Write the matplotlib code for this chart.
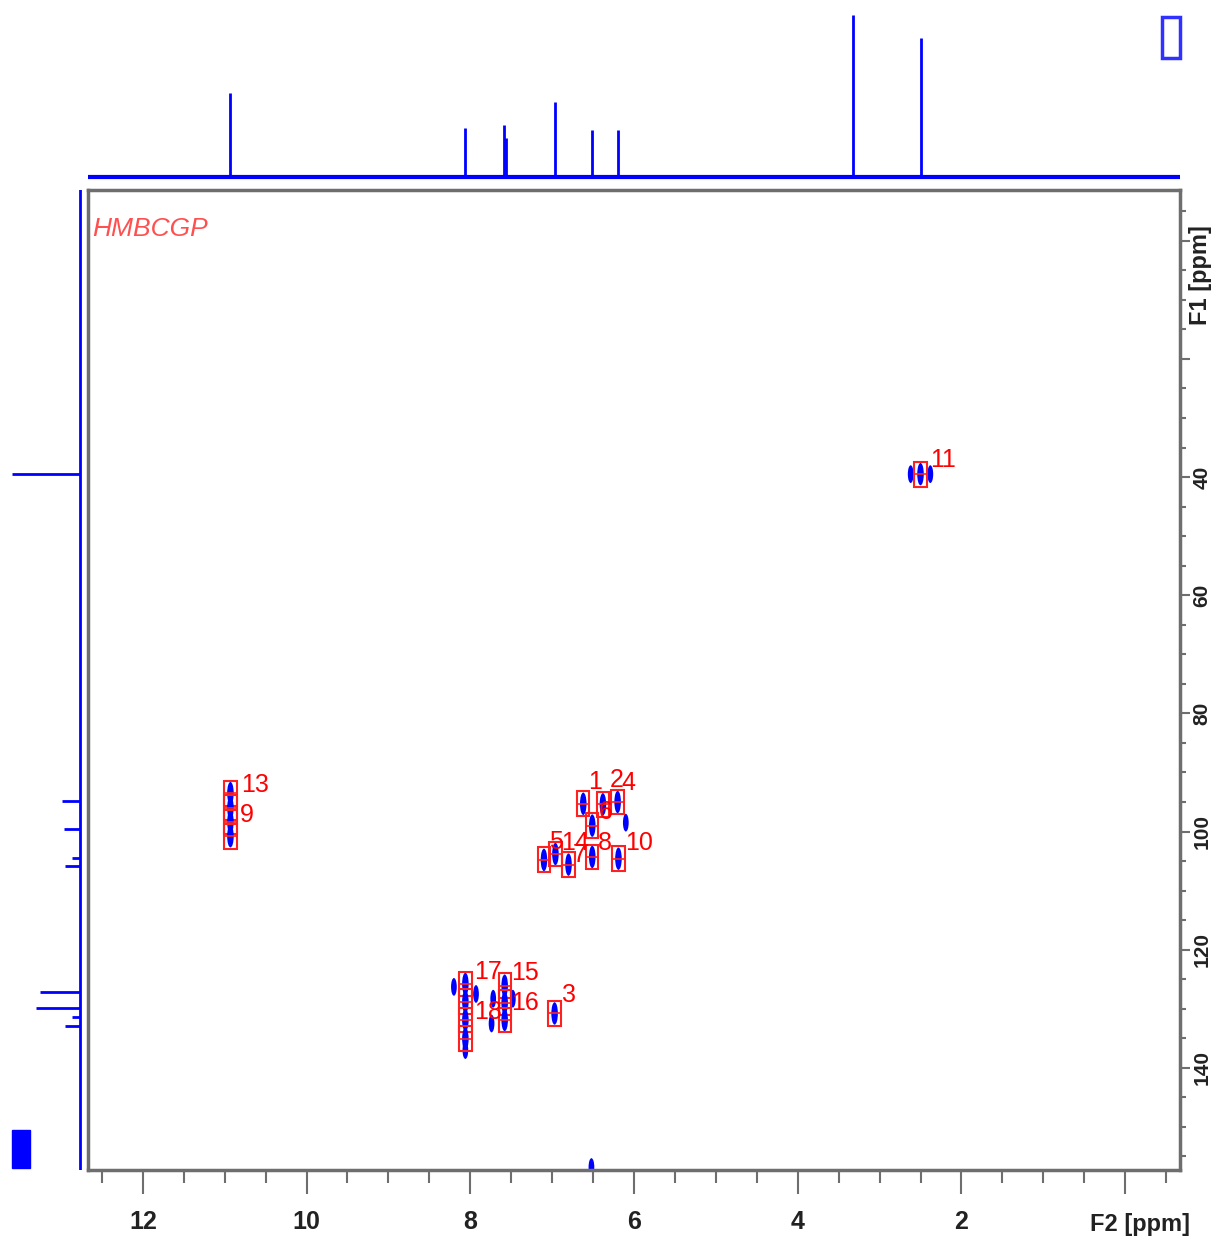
import matplotlib.pyplot as plt
from matplotlib.patches import Ellipse, Rectangle
from matplotlib.ticker import MultipleLocator

# 1D projections (ppm, relative intensity)
top_ppm = [10.93, 8.06, 7.59, 7.56, 6.96, 6.51, 6.19, 3.33, 2.49]
top_int = [0.52, 0.30, 0.32, 0.24, 0.46, 0.29, 0.29, 1.00, 0.86]
left_ppm = [39.5, 94.9, 99.6, 104.4, 105.9, 127.2, 129.9, 131.4, 132.9]
left_int = [1.00, 0.26, 0.23, 0.12, 0.22, 0.59, 0.65, 0.12, 0.22]

# boxed cross peaks (F2, F1)
box_f2 = [2.50, 10.93, 10.93, 10.93, 10.93, 6.62, 6.38, 6.20, 6.51, 6.51, 6.19,
          7.10, 6.96, 6.80, 8.06, 8.06, 8.06, 8.06, 7.58, 7.58, 7.58, 6.97]
box_f1 = [39.5, 93.5, 96.0, 98.4, 100.8, 95.3, 95.4, 95.0, 99.0, 104.3, 104.6,
          104.8, 103.8, 105.6, 125.8, 128.8, 131.9, 135.1, 126.1, 129.0, 131.9, 130.8]

# unassigned cross peaks (F2, F1)
free_f2 = [2.62, 2.38, 6.10, 8.20, 7.93, 7.74, 7.72, 7.48, 8.06, 6.52]
free_f1 = [39.5, 39.5, 98.5, 126.3, 127.5, 132.5, 128.3, 128.3, 137.0, 156.8]

# peak labels
lab_txt = ["11", "13", "9", "1", "2", "4", "6", "8", "10", "5", "14", "7",
           "17", "18", "15", "16", "3"]
lab_f2 = [2.38, 10.80, 10.82, 6.56, 6.30, 6.16, 6.43, 6.44, 6.11, 7.04, 6.89, 6.75,
          7.95, 7.95, 7.50, 7.50, 6.88]
lab_f1 = [37.1, 92.1, 97.2, 91.6, 91.3, 91.8, 96.7, 101.9, 101.9, 101.8, 101.9, 104.0,
          123.8, 130.5, 124.0, 129.0, 127.6]

f2_lim = (12.67, -0.67)
f1_lim = (157.3, -8.6)

font = ['Liberation Sans', 'DejaVu Sans']
blue = '#0000ff'
frame = '#6e6e6e'

W, H = 1215, 1246
fig = plt.figure(figsize=(W / 100, H / 100), dpi=100)
ax = fig.add_axes([88 / W, 76 / H, 1092 / W, 980 / H])
axt = fig.add_axes([88 / W, (H - 180) / H, 1092 / W, 170 / H])
axl = fig.add_axes([10 / W, 76 / H, 72 / W, 980 / H])

# top projection
axt.vlines(top_ppm, 0, top_int, color=blue, lw=2)
axt.axhline(0, color=blue, lw=3)
axt.set_xlim(f2_lim)
axt.set_ylim(-0.02, 1.03)
axt.axis('off')

# left projection
axl.hlines(left_ppm, 0, left_int, color=blue, lw=2)
axl.axvline(0, color=blue, lw=2)
axl.set_xlim(1.03, -0.03)
axl.set_ylim(f1_lim)
axl.axis('off')

# 2D spectrum
for x, y in zip(free_f2, free_f1):
    ax.add_patch(Ellipse((x, y), 0.07, 3.0, color=blue, lw=0))
for x, y in zip(box_f2, box_f1):
    ax.add_patch(Ellipse((x, y), 0.08, 3.8, color=blue, lw=0))
    ax.add_patch(Rectangle((x - 0.075, y - 2.1), 0.15, 4.2, fill=False,
                           ec='#ff2020', lw=1.5))
    ax.plot([x - 0.075, x + 0.075], [y, y], color='#ff2020', lw=1.2)
for t, x, y in zip(lab_txt, lab_f2, lab_f1):
    ax.text(x, y, t, color='#ff0000', fontsize=18, family=font,
            ha='left', va='center')

ax.text(0.004, 0.960, 'HMBCGP', transform=ax.transAxes, color='#ff5050',
        fontsize=19, family=font, style='italic', ha='left', va='center')

ax.set_xlim(f2_lim)
ax.set_ylim(f1_lim)
ax.xaxis.set_major_locator(MultipleLocator(2))
ax.xaxis.set_minor_locator(MultipleLocator(0.5))
ax.yaxis.set_major_locator(MultipleLocator(20))
ax.yaxis.set_minor_locator(MultipleLocator(5))
ax.set_xticks([12, 10, 8, 6, 4, 2, 0], ['12', '10', '8', '6', '4', '2', ''])
ax.set_yticks([0, 20, 40, 60, 80, 100, 120, 140],
              ['', '', '40', '60', '80', '100', '120', '140'])
ax.yaxis.tick_right()
ax.tick_params(axis='x', which='major', length=17, width=1.5, color=frame,
               pad=12, labelsize=18)
ax.tick_params(axis='x', which='minor', length=9, width=1.5, color=frame)
ax.tick_params(axis='y', which='major', length=7, width=1.5, color=frame,
               pad=2, labelsize=15, labelrotation=90)
ax.tick_params(axis='y', which='minor', length=4, width=1.5, color=frame)
for lbl in ax.get_xticklabels() + ax.get_yticklabels():
    lbl.set_family(font)
    lbl.set_weight('bold')
    lbl.set_color('#222222')
for lbl in ax.get_yticklabels():
    lbl.set_va('center')
for s in ax.spines.values():
    s.set_color(frame)
    s.set_linewidth(2.5)

fig.text(1140 / W, 1 - 1225 / H, 'F2 [ppm]', family=font, weight='bold',
         fontsize=17, color='#222222', ha='center', va='center')
fig.text(1200 / W, 1 - 275 / H, 'F1 [ppm]', family=font, weight='bold',
         fontsize=17, color='#222222', ha='center', va='center', rotation=90)

# spectrometer icons
fig.patches.append(Rectangle((1162 / W, 1 - 58 / H), 18 / W, 41 / H, fill=False,
                             ec='#3030ff', lw=2.5, transform=fig.transFigure))
fig.patches.append(Rectangle((12 / W, 1 - 1168 / H), 18 / W, 38 / H,
                             color=blue, transform=fig.transFigure))

fig.savefig('out.png', dpi=100)
